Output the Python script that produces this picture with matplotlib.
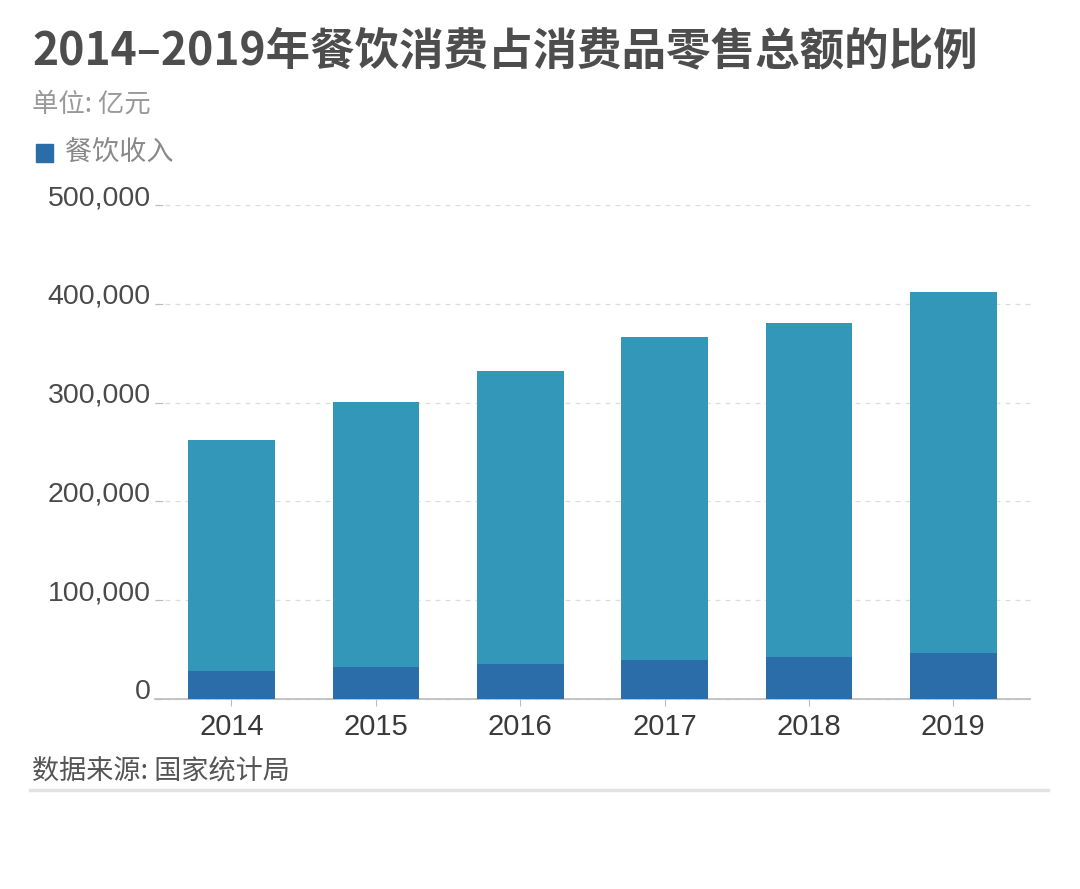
import matplotlib
matplotlib.use("Agg")
import matplotlib.pyplot as plt
from matplotlib.lines import Line2D
from matplotlib.ticker import FuncFormatter

plt.rcParams["font.family"] = ["Noto Sans CJK SC", "DejaVu Sans"]
NUM_FONT = ["Liberation Sans", "Noto Sans CJK SC"]

# ── Data (亿元) ───────────────────────────────────────────────────────────────
years = ["2014", "2015", "2016", "2017", "2018", "2019"]
retail_total = [262394, 300931, 332316, 366262, 380987, 411649]
catering = [27860, 32310, 35799, 39644, 42716, 46721]
y_ticks = [0, 100000, 200000, 300000, 400000, 500000]

LIGHT = "#3297b8"
DARK = "#2b6da8"

fig = plt.figure(figsize=(10.8, 8.89), dpi=100)
ax = fig.add_axes([0.1435, 0.2137, 0.81, 0.5557])

x = range(len(years))
ax.bar(x, retail_total, width=0.6, color=LIGHT, zorder=2)
ax.bar(x, catering, width=0.6, color=DARK, zorder=3)

ax.set_xlim(-0.53, len(years) - 0.47)
ax.set_ylim(0, 500000)
ax.set_yticks(y_ticks)
ax.yaxis.set_major_formatter(FuncFormatter(lambda v, p: f"{int(v):,}"))
ax.set_xticks(list(x))
ax.set_xticklabels(years)

for side in ("top", "right", "left"):
    ax.spines[side].set_visible(False)
ax.spines["bottom"].set_color("#bbbbbb")
ax.spines["bottom"].set_linewidth(1.2)

ax.grid(axis="y", color="#dddddd", linestyle=(0, (4, 4)), linewidth=0.9, zorder=0)
for gl in ax.get_ygridlines():
    gl.set_clip_on(False)

ax.tick_params(axis="y", length=6, direction="in", color="#bbbbbb",
               labelsize=20.5, labelcolor="#4a4a4a", pad=3)
ax.tick_params(axis="x", length=5, color="#bbbbbb", labelsize=21,
               labelcolor="#3a3a3a", pad=5)
for lbl in ax.get_yticklabels():
    lbl.set_verticalalignment("baseline")
    lbl.set_family(NUM_FONT)
for lbl in ax.get_xticklabels():
    lbl.set_family(NUM_FONT)

# ── Header texts ─────────────────────────────────────────────────────────────
fig.text(0.030, 0.942, "2014–2019年餐饮消费占消费品零售总额的比例",
         fontsize=32, fontweight="bold", color="#4d4d4d", va="center")
fig.text(0.030, 0.883, "单位: 亿元", fontsize=19, color="#999999", va="center")
fig.patches.append(plt.Rectangle((0.033, 0.818), 0.016, 0.020,
                                 transform=fig.transFigure, color=DARK))
fig.text(0.060, 0.828, "餐饮收入", fontsize=19.5, color="#888888", va="center")

# ── Footer ───────────────────────────────────────────────────────────────────
fig.text(0.030, 0.133, "数据来源: 国家统计局", fontsize=19.5, color="#555555",
         va="center")
fig.lines.append(Line2D([0.028, 0.970], [0.111, 0.111], transform=fig.transFigure,
                        color="#e3e3e3", linewidth=2.5))

fig.savefig("out.png", dpi=100, facecolor="white")
